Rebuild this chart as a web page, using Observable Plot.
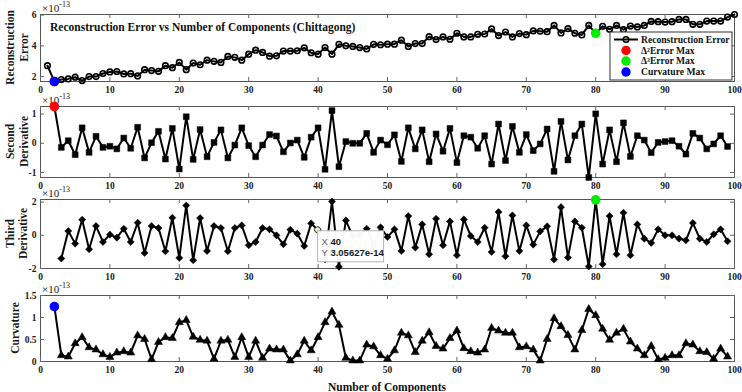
<!DOCTYPE html>
<html>
<head>
<meta charset="utf-8">
<script src="https://cdn.jsdelivr.net/npm/d3@7"></script>
<script src="https://cdn.jsdelivr.net/npm/@observablehq/plot@0.6"></script>
<style>
  html, body { margin: 0; padding: 0; background: #fff; }
  #chart { position: relative; width: 742px; height: 392px; overflow: hidden; }
  #chart svg { position: absolute; left: 0; overflow: visible; }
</style>
</head>
<body>
<div id="chart"></div>
<script>
// Values are in units of 1e-13
const components = d3.range(1, 101);
const reconError = [
  2.71, 1.68, 1.81, 1.85, 1.96, 1.74, 2.00, 2.00, 2.20, 2.30,
  2.33, 2.17, 2.19, 2.04, 2.45, 2.39, 2.34, 2.71, 2.58, 2.92,
  2.45, 2.88, 2.77, 3.07, 2.99, 2.92, 3.31, 3.25, 3.07, 3.46,
  3.72, 3.57, 3.33, 3.35, 3.66, 3.66, 3.68, 3.87, 3.55, 3.46,
  3.89, 3.46, 4.10, 4.00, 3.96, 3.89, 3.80, 4.10, 4.07, 4.11,
  4.11, 4.37, 3.96, 4.15, 4.15, 4.60, 4.41, 4.58, 4.43, 4.82,
  4.58, 4.58, 4.75, 4.77, 5.10, 4.67, 4.90, 4.58, 4.80, 4.73,
  4.97, 4.95, 4.92, 5.33, 4.84, 5.12, 4.82, 4.71, 5.33, 4.82,
  5.27, 5.08, 5.33, 5.05, 5.29, 5.23, 5.33, 5.59, 5.57, 5.55,
  5.57, 5.72, 5.72, 5.40, 5.40, 5.61, 5.61, 5.61, 5.87, 6.04
];

const secondX = d3.range(2, 100);
const secondDeriv = [
  1.26, -0.14, 0.09, -0.39, 0.53, -0.31, 0.24, -0.14, -0.10,
  -0.19, 0.18, -0.17, 0.55, -0.50, 0.02, 0.41, -0.54, 0.51, -0.88,
  0.91, -0.55, 0.47, -0.46, 0.03, 0.46, -0.50, -0.06, 0.53, -0.08,
  -0.46, -0.06, 0.30, 0.25, -0.29, 0.01, 0.11, -0.48, 0.21, 0.53,
  -0.89, 1.12, -0.80, 0.06, 0.00, 0.00, 0.34, -0.31, 0.11, -0.05,
  0.29, -0.62, 0.53, -0.19, 0.46, -0.63, 0.32, -0.27, 0.51, -0.66,
  0.26, 0.21, -0.17, 0.26, -0.71, 0.66, -0.59, 0.58, -0.31, 0.30,
  -0.25, -0.02, 0.49, -0.96, 0.75, -0.57, 0.26, 0.66, -1.17, 1.01,
  -0.71, 0.46, -0.63, 0.70, -0.45, 0.26, 0.11, -0.32, 0.03, 0.06,
  0.09, -0.10, -0.37, 0.34, 0.18, -0.19, -0.02, 0.26, -0.11
];

const thirdX = d3.range(3, 100);
const thirdDeriv = [
  -1.40, 0.26, -0.50, 0.94, -0.84, 0.56, -0.40, 0.04,
  -0.14, 0.40, -0.40, 0.76, -1.06, 0.56, 0.44, -0.96, 1.06, -1.36,
  1.80, -1.50, 1.04, -0.94, 0.56, 0.44, -0.96, 0.44, 0.60, -0.60,
  -0.40, 0.44, 0.36, 0.00, -0.54, 0.34, 0.10, -0.64, 0.72, 0.305627,
  -1.45, 2.04, -1.90, 0.90, -0.06, 0.00, 0.40, -0.64, 0.48, -0.10,
  0.36, -0.94, 1.16, -0.74, 0.66, -1.14, 1.00, -0.60, 0.84, -1.20,
  0.96, -0.04, -0.40, 0.46, -1.00, 1.40, -1.26, 1.20, -0.94, 0.60,
  -0.56, 0.24, 0.54, -1.46, 1.70, -1.34, 0.84, 0.46, -1.88, 2.14,
  -1.74, 1.16, -1.14, 1.36, -1.20, 0.66, -0.20, -0.46, 0.36, 0.00,
  0.00, -0.20, -0.30, 0.74, -0.20, -0.40, 0.06, 0.36, -0.36
];

const curvX = d3.range(2, 100);
const curvature = [
  1.25, 0.14, 0.11, 0.41, 0.55, 0.32, 0.27, 0.16, 0.10,
  0.20, 0.23, 0.20, 0.59, 0.51, 0.05, 0.44, 0.55, 0.53, 0.89,
  0.94, 0.56, 0.49, 0.47, 0.06, 0.47, 0.49, 0.10, 0.55, 0.10,
  0.47, 0.08, 0.29, 0.27, 0.27, 0.02, 0.16, 0.47, 0.25, 0.55,
  0.89, 1.13, 0.83, 0.08, 0.02, 0.02, 0.38, 0.34, 0.14, 0.06,
  0.25, 0.65, 0.59, 0.21, 0.47, 0.66, 0.35, 0.29, 0.53, 0.70,
  0.30, 0.23, 0.20, 0.27, 0.76, 0.70, 0.65, 0.65, 0.32, 0.34,
  0.27, 0.02, 0.51, 0.98, 0.80, 0.60, 0.27, 0.71, 1.19, 1.05,
  0.74, 0.49, 0.65, 0.74, 0.45, 0.29, 0.14, 0.35, 0.05, 0.08,
  0.14, 0.14, 0.41, 0.38, 0.23, 0.21, 0.06, 0.29, 0.11
];

const xTicks = d3.range(0, 101, 10);
const errorTicks = [2, 4, 6];
const secondTicks = [-1, 0, 1];
const thirdTicks = [-2, 0, 2];
const curvTicks = [0, 0.5, 1, 1.5];
const exponent = -13;
const tipComponent = 40;

const panelTitle = "Reconstruction Error vs Number of Components (Chittagong)";
const xTitle = "Number of Components";
const legendLabels = ["Reconstruction Error", "\u0394\u00b2Error Max", "\u0394\u00b3Error Max", "Curvature Max"];
const colD2 = "#ff0000", colD3 = "#00ee00", colCurv = "#0000ff";

// Components at which each diagnostic peaks
const kD2 = secondX[d3.maxIndex(secondDeriv)];
const kD3 = thirdX[d3.maxIndex(thirdDeriv)];
const kCurv = curvX[d3.maxIndex(curvature)];

const serif = "'Liberation Serif', 'Times New Roman', serif";
const sans = "'Liberation Sans', Arial, Helvetica, sans-serif";
const W = 742, ML = 40, MR = 8;
const chart = document.getElementById("chart");

function rows(xs, ys) { return xs.map((x, i) => ({x, y: ys[i]})); }

function panel(opt) {
  const fw = W - ML - MR, fh = opt.height - opt.mt - opt.mb;
  const svg = Plot.plot({
    width: W, height: opt.height,
    marginLeft: ML, marginRight: MR, marginTop: opt.mt, marginBottom: opt.mb,
    style: {fontFamily: serif, fontWeight: "bold", fontSize: "9.5px", color: "#1a1a1a", background: "transparent"},
    x: {domain: [0, 100]},
    y: {domain: opt.domain},
    marks: [
      Plot.frame({stroke: "#555"}),
      Plot.ruleX(xTicks, {x: d => d, insetBottom: fh - 4, stroke: "#666"}),
      Plot.ruleX(xTicks, {x: d => d, insetTop: fh - 4, stroke: "#666"}),
      Plot.ruleY(opt.ticks, {y: d => d, insetRight: fw - 4, stroke: "#666"}),
      Plot.ruleY(opt.ticks, {y: d => d, insetLeft: fw - 4, stroke: "#666"}),
      Plot.axisX({ticks: xTicks, tickSize: 0, tickPadding: 5, label: null, tickFormat: d => String(d)}),
      Plot.axisY({ticks: opt.ticks, tickSize: 0, tickPadding: 4, label: null, tickFormat: d => String(d)}),
      Plot.line(opt.data, {x: "x", y: "y", stroke: "#000", strokeWidth: 2}),
      Plot.dot(opt.data, {x: "x", y: "y", symbol: opt.symbol, r: opt.r, fill: opt.fill, stroke: "#000", strokeWidth: opt.sw}),
      ...(opt.extras || [])
    ]
  });
  svg.style.top = opt.top + "px";
  svg.style.overflow = "visible";
  chart.appendChild(svg);
  const s = d3.select(svg);

  // scale factor above the frame
  const mult = s.insert("text", ":first-child")
    .attr("x", ML + 2).attr("y", opt.mt - 2).attr("text-anchor", "start")
    .attr("font-family", serif).attr("font-size", 11).attr("font-weight", "normal").attr("fill", "#222");
  mult.append("tspan").text("\u00d710");
  mult.append("tspan").attr("dy", -5).attr("font-size", 8).text(String(exponent));

  // y-axis title (one or two lines)
  const cy = opt.mt + fh / 2;
  opt.ylabel.forEach((line, i) => {
    s.append("text")
      .attr("transform", `translate(${opt.ylabelX[i]},${cy}) rotate(-90)`)
      .attr("text-anchor", "middle").attr("dy", "0.35em")
      .attr("font-family", serif).attr("font-weight", "bold").attr("font-size", 11.5).attr("fill", "#1a1a1a")
      .text(line);
  });
  return s;
}

function highlight(xs, ys, k, color) {
  return Plot.dot(rows(xs, ys).filter(d => d.x === k), {x: "x", y: "y", r: 4.8, fill: color, stroke: "none"});
}

// Panel 1: reconstruction error
const s1 = panel({
  top: 0, height: 96, mt: 14, mb: 15,
  data: rows(components, reconError), domain: d3.extent(reconError), ticks: errorTicks,
  symbol: "circle", r: 2.8, fill: "none", sw: 1.6,
  ylabel: ["Reconstruction", "Error"], ylabelX: [10, 24],
  extras: [
    highlight(components, reconError, kD2, colD2),
    highlight(components, reconError, kD3, colD3),
    highlight(components, reconError, kCurv, colCurv)
  ]
});

s1.append("text").attr("x", 50).attr("y", 27).attr("dy", "0.35em").attr("text-anchor", "start")
  .attr("font-family", serif).attr("font-weight", "bold").attr("font-size", 11.5).attr("fill", "#111")
  .text(panelTitle);

// legend
const lg = s1.append("g").attr("text-anchor", "start");
lg.append("rect").attr("x", 610).attr("y", 32).attr("width", 122).attr("height", 48)
  .attr("fill", "#fff").attr("stroke", "#333").attr("stroke-width", 1);
const rowY = [39.5, 50.5, 61, 72];
lg.append("line").attr("x1", 614).attr("x2", 638).attr("y1", rowY[0]).attr("y2", rowY[0])
  .attr("stroke", "#000").attr("stroke-width", 2);
lg.append("circle").attr("cx", 626).attr("cy", rowY[0]).attr("r", 2.8)
  .attr("fill", "none").attr("stroke", "#000").attr("stroke-width", 1.6);
[colD2, colD3, colCurv].forEach((c, i) => {
  lg.append("circle").attr("cx", 626).attr("cy", rowY[i + 1]).attr("r", 4.7).attr("fill", c);
});
legendLabels.forEach((t, i) => {
  lg.append("text").attr("x", 641).attr("y", rowY[i]).attr("dy", "0.35em").attr("text-anchor", "start")
    .attr("font-family", serif).attr("font-weight", "bold").attr("font-size", 9.6).attr("fill", "#111")
    .text(t);
});

// Panel 2: second derivative
panel({
  top: 96, height: 94, mt: 10, mb: 13,
  data: rows(secondX, secondDeriv), domain: d3.extent(secondDeriv), ticks: secondTicks,
  symbol: "square", r: 3.3, fill: "#000", sw: 0.5,
  ylabel: ["Second", "Derivative"], ylabelX: [10, 24],
  extras: [highlight(secondX, secondDeriv, kD2, colD2)]
});

// Panel 3: third derivative, with a data tip at one component
const tipIdx = thirdX.indexOf(tipComponent);
const dataTip = (index, scales) => {
  const px = scales.x(thirdX[tipIdx]), py = scales.y(thirdDeriv[tipIdx]);
  const g = d3.create("svg:g").attr("text-anchor", "start");
  g.append("circle").attr("cx", px).attr("cy", py).attr("r", 3)
    .attr("fill", "#f3efc4").attr("stroke", "#333").attr("stroke-width", 1);
  g.append("rect").attr("x", px).attr("y", py + 1).attr("width", 66).attr("height", 31)
    .attr("fill", "#fff").attr("fill-opacity", 0.97).attr("stroke", "#b5b5b5").attr("stroke-width", 1);
  const lines = [["X", String(tipComponent)], ["Y", (thirdDeriv[tipIdx] * Math.pow(10, exponent)).toExponential(5)]];
  lines.forEach(([k, v], i) => {
    const t = g.append("text").attr("x", px + 4).attr("y", py + 12 + i * 11).attr("dy", "0.35em")
      .attr("text-anchor", "start").attr("font-family", sans).attr("font-size", 9.5);
    t.append("tspan").attr("fill", "#666").attr("font-weight", "normal").text(k + " ");
    t.append("tspan").attr("fill", "#1a1a1a").attr("font-weight", "bold").text(v);
  });
  return g.node();
};

panel({
  top: 190, height: 94, mt: 9, mb: 16,
  data: rows(thirdX, thirdDeriv), domain: [-2, 2.16], ticks: thirdTicks,
  symbol: "diamond2", r: 3.2, fill: "#000", sw: 0.5,
  ylabel: ["Third", "Derivative"], ylabelX: [10, 23],
  extras: [highlight(thirdX, thirdDeriv, kD3, colD3), dataTip]
});

// Panel 4: curvature
const s4 = panel({
  top: 284, height: 108, mt: 11, mb: 31,
  data: rows(curvX, curvature), domain: [0, 1.5], ticks: curvTicks,
  symbol: "triangle", r: 3.0, fill: "#000", sw: 0.5,
  ylabel: ["Curvature"], ylabelX: [15],
  extras: [highlight(curvX, curvature, kCurv, colCurv)]
});

s4.append("text").attr("x", 387).attr("y", 102.5).attr("dy", "0.35em").attr("text-anchor", "middle")
  .attr("font-family", serif).attr("font-weight", "bold").attr("font-size", 11.5).attr("fill", "#111")
  .text(xTitle);
</script>
</body>
</html>
